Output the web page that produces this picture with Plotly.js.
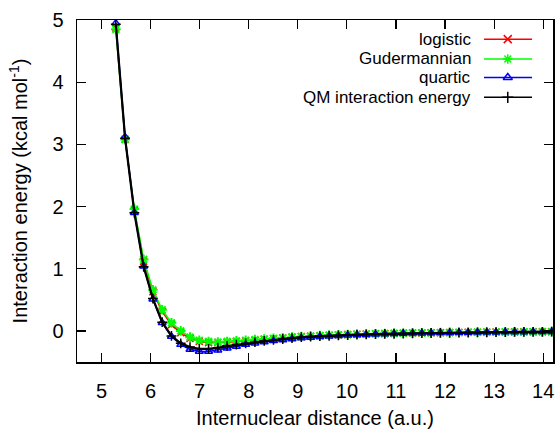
<!DOCTYPE html>
<html><head><meta charset="utf-8">
<script src="https://cdn.plot.ly/plotly-3.0.1.min.js"></script>
<style>html,body{margin:0;padding:0;background:#fff}#c{width:558px;height:433px}</style>
</head><body><div id="c"></div>
<script>
const distance = [5.291, 5.480, 5.669, 5.858, 6.047, 6.236, 6.425, 6.614, 6.803, 6.992, 7.181, 7.370, 7.559, 7.748, 7.937, 8.126, 8.315, 8.504, 8.693, 8.882, 9.071, 9.260, 9.449, 9.638, 9.827, 10.016, 10.205, 10.394, 10.583, 10.772, 10.961, 11.149, 11.338, 11.527, 11.716, 11.905, 12.094, 12.283, 12.472, 12.661, 12.850, 13.039, 13.228, 13.417, 13.606, 13.795, 13.984, 14.173];
const logistic = [4.87, 3.08, 1.94, 1.12, 0.63, 0.31, 0.10, -0.03, -0.12, -0.17, -0.19, -0.19, -0.185, -0.17, -0.16, -0.15, -0.135, -0.125, -0.115, -0.10, -0.092, -0.085, -0.078, -0.071, -0.065, -0.060, -0.055, -0.051, -0.047, -0.044, -0.041, -0.038, -0.035, -0.033, -0.031, -0.029, -0.027, -0.025, -0.023, -0.021, -0.020, -0.019, -0.018, -0.017, -0.016, -0.015, -0.014, -0.013];
const gudermannian = [4.85, 3.08, 1.96, 1.15, 0.66, 0.34, 0.13, 0.00, -0.10, -0.15, -0.17, -0.18, -0.17, -0.16, -0.15, -0.14, -0.13, -0.12, -0.11, -0.10, -0.09, -0.083, -0.076, -0.070, -0.064, -0.059, -0.054, -0.050, -0.046, -0.043, -0.040, -0.037, -0.034, -0.032, -0.030, -0.028, -0.026, -0.024, -0.022, -0.021, -0.020, -0.018, -0.017, -0.016, -0.015, -0.014, -0.013, -0.012];
const quartic = [4.95, 3.12, 1.90, 1.04, 0.51, 0.13, -0.09, -0.22, -0.30, -0.33, -0.33, -0.31, -0.28, -0.25, -0.22, -0.20, -0.18, -0.16, -0.145, -0.13, -0.115, -0.105, -0.095, -0.086, -0.078, -0.071, -0.065, -0.060, -0.055, -0.050, -0.046, -0.042, -0.039, -0.036, -0.033, -0.031, -0.029, -0.027, -0.025, -0.023, -0.021, -0.020, -0.019, -0.017, -0.016, -0.015, -0.014, -0.013];
const qmEnergy = [4.93, 3.10, 1.90, 1.03, 0.52, 0.14, -0.08, -0.20, -0.26, -0.29, -0.29, -0.27, -0.24, -0.22, -0.20, -0.18, -0.16, -0.145, -0.13, -0.115, -0.10, -0.092, -0.085, -0.078, -0.072, -0.066, -0.061, -0.057, -0.053, -0.049, -0.046, -0.043, -0.040, -0.037, -0.034, -0.032, -0.030, -0.028, -0.026, -0.024, -0.022, -0.020, -0.019, -0.017, -0.016, -0.015, -0.014, -0.013];

const seriesNames = ['logistic', 'Gudermannian', 'quartic', 'QM interaction energy'];
const seriesValues = [logistic, gudermannian, quartic, qmEnergy];
const seriesColors = ['#ff0000', '#00ff00', '#0000ff', '#000000'];
const seriesSymbols = ['x-thin-open', 'asterisk-open', 'triangle-up-open', 'cross-thin-open'];
const xTicks = [5, 6, 7, 8, 9, 10, 11, 12, 13, 14];
const yTicks = [0, 1, 2, 3, 4, 5];

const FONT = 'Liberation Sans, Arial, sans-serif';
const traces = [];
seriesValues.forEach((vals, i) => {
  traces.push({
    x: distance, y: vals, type: 'scatter', mode: 'lines+markers', showlegend: false,
    line: {color: seriesColors[i], width: i === 3 ? 2.2 : 1.5},
    marker: {symbol: seriesSymbols[i], size: i === 1 ? 8 : 7, color: seriesColors[i], line: {color: seriesColors[i], width: i === 1 ? 2 : 1.5}}
  });
});
// legend samples (gnuplot style: text left, sample right)
const legY = [0.944, 0.886, 0.832, 0.774];
const annotations = [];
seriesNames.forEach((n, i) => {
  traces.push({x: [0.855, 0.956], y: [legY[i], legY[i]], xaxis: 'x2', yaxis: 'y2', mode: 'lines', showlegend: false, hoverinfo: 'skip',
    line: {color: seriesColors[i], width: 1.5}});
  traces.push({x: [0.905], y: [legY[i]], xaxis: 'x2', yaxis: 'y2', mode: 'markers', showlegend: false, hoverinfo: 'skip',
    marker: {symbol: seriesSymbols[i], size: 8, color: seriesColors[i], line: {color: seriesColors[i], width: 1.5}}});
  annotations.push({xref: 'paper', yref: 'paper', x: 0.832, y: legY[i], xanchor: 'right', yanchor: 'middle', showarrow: false,
    text: n, font: {family: FONT, size: 17, color: '#000'}});
});

const layout = {
  width: 558, height: 433,
  margin: {l: 77, r: 5, t: 20, b: 70.5},
  paper_bgcolor: '#fff', plot_bgcolor: '#fff',
  font: {family: FONT, size: 20, color: '#000'},
  xaxis: {range: [4.5, 14.2], tickvals: xTicks, ticks: 'inside', ticklen: 9, tickwidth: 1.2, tickcolor: '#000',
    mirror: 'ticks', showline: true, linecolor: '#000', linewidth: 1.5, showgrid: false, zeroline: false,
    ticklabelstandoff: 10,
    title: {text: 'Internuclear distance (a.u.)', font: {family: FONT, size: 20}, standoff: 10}},
  yaxis: {range: [-0.5, 5], tickvals: yTicks, ticks: 'inside', ticklen: 9, tickwidth: 1.2, tickcolor: '#000',
    mirror: 'ticks', showline: true, linecolor: '#000', linewidth: 1.5, showgrid: false, zeroline: false,
    ticklabelstandoff: 8,
    title: {text: 'Interaction energy (kcal mol<sup>-1</sup>)', font: {family: FONT, size: 20}, standoff: 19}},
  xaxis2: {overlaying: 'x', range: [0, 1], visible: false, fixedrange: true},
  yaxis2: {overlaying: 'y', range: [0, 1], visible: false, fixedrange: true},
  annotations: annotations,
  showlegend: false
};
Plotly.newPlot('c', traces, layout, {displayModeBar: false, staticPlot: true});
</script></body></html>
